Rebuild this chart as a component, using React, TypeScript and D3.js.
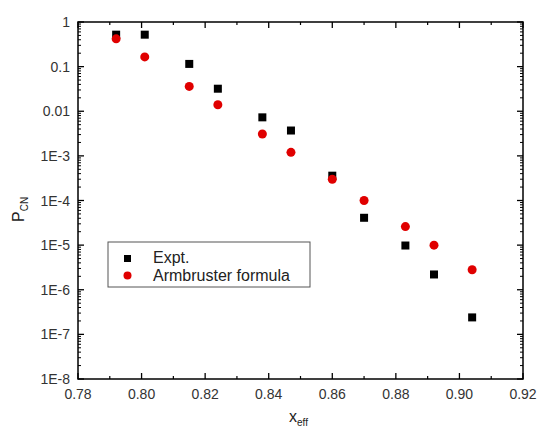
import React from "react";
import * as d3 from "d3";

const xEff = [0.792, 0.801, 0.815, 0.824, 0.838, 0.847, 0.860, 0.870, 0.883, 0.892, 0.904];
const expt = [0.52, 0.52, 0.115, 0.032, 0.0073, 0.0037, 3.6e-4, 4.1e-5, 9.8e-6, 2.2e-6, 2.4e-7];
const armbruster = [0.42, 0.165, 0.036, 0.014, 0.0031, 0.0012, 3.0e-4, 1.0e-4, 2.6e-5, 1.0e-5, 2.8e-6];
const xTicks = [0.78, 0.80, 0.82, 0.84, 0.86, 0.88, 0.90, 0.92];
const yTicks = [1, 0.1, 0.01, 1e-3, 1e-4, 1e-5, 1e-6, 1e-7, 1e-8];
const yTickLabels = ["1", "0.1", "0.01", "1E-3", "1E-4", "1E-5", "1E-6", "1E-7", "1E-8"];

const W = 539, H = 430;
const L = 78, R = 523, T = 22, B = 379;

export default function App() {
  const x = d3.scaleLinear().domain([0.78, 0.92]).range([L, R]);
  const y = d3.scaleLog().domain([1e-8, 1]).range([B, T]);
  const font = "'Liberation Sans', Arial, sans-serif";
  const minorX = d3.range(0, 14).map((i) => 0.79 + i * 0.02).filter((v) => v < 0.92);
  const minorY: number[] = [];
  for (let e = -8; e < 0; e++) for (let m = 2; m <= 9; m++) minorY.push(m * Math.pow(10, e));
  return (
    <svg width={W} height={H} style={{ position: "absolute", left: 0, top: 0, background: "#fff" }}>
      <rect x={0} y={0} width={W} height={H} fill="#fff" />
      {xTicks.map((t, i) => (
        <g key={"xt" + i}>
          <line x1={x(t)} x2={x(t)} y1={B} y2={B - 6} stroke="#000" strokeWidth={1.3} />
          <line x1={x(t)} x2={x(t)} y1={T} y2={T + 6} stroke="#000" strokeWidth={1.3} />
          <text x={x(t)} y={B + 20} textAnchor="middle" fontFamily={font} fontSize={14} fill="#333">
            {t.toFixed(2)}
          </text>
        </g>
      ))}
      {minorX.map((t, i) => (
        <g key={"xm" + i}>
          <line x1={x(t)} x2={x(t)} y1={B} y2={B - 3} stroke="#000" strokeWidth={1.2} />
          <line x1={x(t)} x2={x(t)} y1={T} y2={T + 3} stroke="#000" strokeWidth={1.2} />
        </g>
      ))}
      {yTicks.map((t, i) => (
        <g key={"yt" + i}>
          <line x1={L} x2={L + 6} y1={y(t)} y2={y(t)} stroke="#000" strokeWidth={1.3} />
          <line x1={R} x2={R - 6} y1={y(t)} y2={y(t)} stroke="#000" strokeWidth={1.3} />
          <text x={L - 8} y={y(t) + 5} textAnchor="end" fontFamily={font} fontSize={14} fill="#333">
            {yTickLabels[i]}
          </text>
        </g>
      ))}
      {minorY.map((t, i) => (
        <g key={"ym" + i}>
          <line x1={L} x2={L + 3} y1={y(t)} y2={y(t)} stroke="#000" strokeWidth={1} />
          <line x1={R} x2={R - 3} y1={y(t)} y2={y(t)} stroke="#000" strokeWidth={1} />
        </g>
      ))}
      <rect x={L} y={T} width={R - L} height={B - T} fill="none" stroke="#000" strokeWidth={1.5} />
      {xEff.map((v, i) => (
        <rect key={"e" + i} x={x(v) - 4} y={y(expt[i]) - 4} width={8} height={8} fill="#000" />
      ))}
      {xEff.map((v, i) => (
        <circle key={"a" + i} cx={x(v)} cy={y(armbruster[i])} r={4.5} fill="#e00000" />
      ))}
      <rect x={108} y={242} width={202} height={45} fill="#fff" stroke="#555" strokeWidth={1} />
      <rect x={124} y={255} width={7} height={7} fill="#000" />
      <circle cx={127.5} cy={275.5} r={4} fill="#e00000" />
      <text x={153} y={263} fontFamily={font} fontSize={16} fill="#222">Expt.</text>
      <text x={153} y={281} fontFamily={font} fontSize={16} fill="#222">Armbruster formula</text>
      <text transform="translate(24,222) rotate(-90)" fontFamily={font} fontSize={16} fill="#222">
        P<tspan fontSize={10} dy={4}>CN</tspan>
      </text>
      <text x={289} y={422} fontFamily={font} fontSize={16} fill="#222">
        x<tspan fontSize={10} dy={4}>eff</tspan>
      </text>
    </svg>
  );
}
